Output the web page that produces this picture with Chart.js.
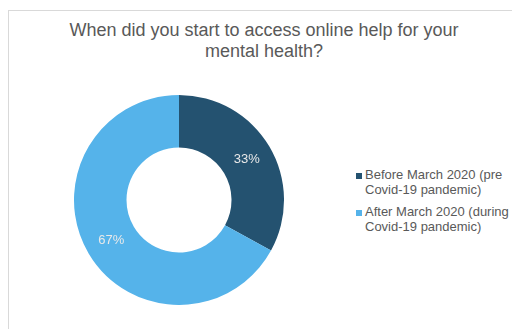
<!DOCTYPE html>
<html>
<head>
<meta charset="utf-8">
<script src="https://cdn.jsdelivr.net/npm/chart.js@4"></script>
<style>
  html, body { margin: 0; padding: 0; background: #fff; }
  #wrap { position: relative; width: 512px; height: 329px; overflow: hidden; font-family: "Liberation Sans", Arial, sans-serif; }
  #frame { position: absolute; left: 8px; top: 10px; width: 520px; height: 330px; border-top: 1px solid #d9d9d9; border-left: 1px solid #d9d9d9; }
  #title { position: absolute; left: 8px; width: 512px; top: 20px; text-align: center; color: #595959; font-size: 18px; line-height: 21px; }
  #box { position: absolute; left: 74px; top: 95px; width: 210px; height: 210px; }
  #legend { position: absolute; left: 356px; top: 167px; color: #595959; font-size: 13px; line-height: 15px; white-space: nowrap; }
  #legend .item { position: relative; padding-left: 9px; margin-bottom: 7px; }
  #legend .sw { position: absolute; left: 0; top: 6px; width: 6px; height: 6px; }
</style>
</head>
<body>
<div id="wrap">
  <div id="frame"></div>
  <div id="title"></div>
  <div id="box"><canvas id="c"></canvas></div>
  <div id="legend"></div>
</div>
<script>
const titleLines = ['When did you start to access online help for your', 'mental health?'];
const categories = [
  ['Before March 2020 (pre', 'Covid-19 pandemic)'],
  ['After March 2020 (during', 'Covid-19 pandemic)']
];
const shares = [33, 67];
const colors = ['#245270', '#55b3ea'];

document.getElementById('title').innerHTML = titleLines.join('<br>');

var lg = '';
categories.forEach(function(lines, i) {
  lg += '<div class="item"><span class="sw" style="background:' + colors[i] + '"></span>' + lines.join('<br>') + '</div>';
});
document.getElementById('legend').innerHTML = lg;

// percent labels on the ring
const pctLabels = {
  id: 'pctLabels',
  afterDatasetsDraw: function(chart) {
    var ctx = chart.ctx;
    var meta = chart.getDatasetMeta(0);
    ctx.save();
    ctx.font = '13px "Liberation Sans", Arial, sans-serif';
    ctx.fillStyle = '#e9e9e9';
    ctx.textAlign = 'center';
    ctx.textBaseline = 'middle';
    meta.data.forEach(function(arc, i) {
      var p = arc.tooltipPosition();
      ctx.fillText(shares[i] + '%', p.x, p.y);
    });
    ctx.restore();
  }
};

new Chart(document.getElementById('c'), {
  type: 'doughnut',
  data: {
    labels: categories.map(function(l) { return l.join(' '); }),
    datasets: [{
      data: shares,
      backgroundColor: colors,
      borderWidth: 0
    }]
  },
  options: {
    responsive: true,
    maintainAspectRatio: false,
    animation: false,
    cutout: '50%',
    layout: { padding: 0 },
    plugins: {
      legend: { display: false },
      title: { display: false },
      tooltip: { enabled: false }
    }
  },
  plugins: [pctLabels]
});
</script>
</body>
</html>
